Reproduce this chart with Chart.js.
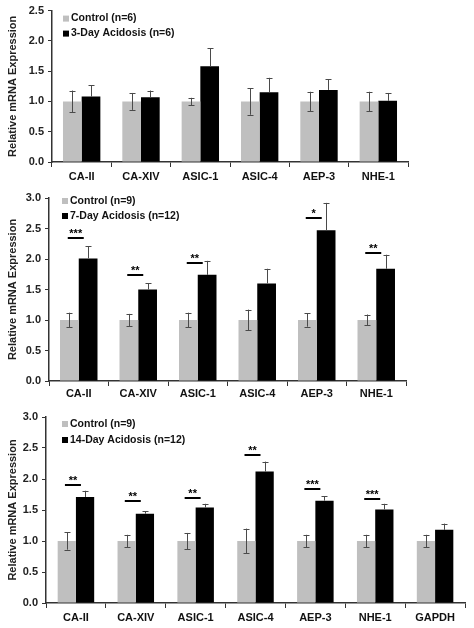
<!DOCTYPE html>
<html>
<head>
<meta charset="utf-8">
<script src="https://cdn.jsdelivr.net/npm/chart.js@4.4.1/dist/chart.umd.min.js"></script>
<style>
  html, body { margin: 0; padding: 0; background: #fff; }
  body { width: 474px; height: 628px; position: relative; overflow: hidden; }
  .panel { position: absolute; left: 0; width: 474px; }
</style>
</head>
<body>
<div class="panel" id="p1" style="top:0;height:186px"><canvas id="c1"></canvas></div>
<div class="panel" id="p2" style="top:186px;height:214px"><canvas id="c2"></canvas></div>
<div class="panel" id="p3" style="top:400px;height:228px"><canvas id="c3"></canvas></div>
<script>
// ---------- Panel 1: 3-day ----------
const categories1 = ['CA-II', 'CA-XIV', 'ASIC-1', 'ASIC-4', 'AEP-3', 'NHE-1'];
const control1    = [1.00, 1.00, 1.00, 1.00, 1.00, 1.00];
const controlErr1 = [0.18, 0.14, 0.06, 0.22, 0.16, 0.16];
const acid1       = [1.08, 1.07, 1.58, 1.15, 1.19, 1.01];
const acidErr1    = [0.19, 0.11, 0.30, 0.24, 0.18, 0.13];
const sigY1       = [null, null, null, null, null, null];
const sigLabel1   = ['', '', '', '', '', ''];

// ---------- Panel 2: 7-day ----------
const categories2 = ['CA-II', 'CA-XIV', 'ASIC-1', 'ASIC-4', 'AEP-3', 'NHE-1'];
const control2    = [1.00, 1.00, 1.00, 1.00, 1.00, 1.00];
const controlErr2 = [0.12, 0.10, 0.12, 0.17, 0.11, 0.09];
const acid2       = [2.01, 1.50, 1.74, 1.60, 2.47, 1.84];
const acidErr2    = [0.20, 0.10, 0.23, 0.24, 0.45, 0.23];
const sigY2       = [2.34, 1.74, 1.94, null, 2.67, 2.10];
const sigLabel2   = ['***', '**', '**', '', '*', '**'];

// ---------- Panel 3: 14-day ----------
const categories3 = ['CA-II', 'CA-XIV', 'ASIC-1', 'ASIC-4', 'AEP-3', 'NHE-1', 'GAPDH'];
const control3    = [1.00, 1.00, 1.00, 1.00, 1.00, 1.00, 1.00];
const controlErr3 = [0.14, 0.10, 0.13, 0.20, 0.10, 0.10, 0.10];
const acid3       = [1.71, 1.44, 1.54, 2.12, 1.65, 1.51, 1.18];
const acidErr3    = [0.10, 0.04, 0.06, 0.16, 0.07, 0.09, 0.10];
const sigY3       = [1.91, 1.65, 1.70, 2.38, 1.84, 1.68, null];
const sigLabel3   = ['**', '**', '**', '**', '***', '***', ''];

const yTicks1 = [0, 0.5, 1.0, 1.5, 2.0, 2.5];
const yTicks23 = [0, 0.5, 1.0, 1.5, 2.0, 2.5, 3.0];

const GRAY = '#bfbfbf';
const BLACK = '#000000';
const AXIS = '#333333';
const FONT = 'Arial, "Liberation Sans", sans-serif';

const errorSigPlugin = {
  id: 'errorSig',
  afterDatasetsDraw(chart, args, opts) {
    const ctx = chart.ctx;
    const y = chart.scales.y;
    const m0 = chart.getDatasetMeta(0), m1 = chart.getDatasetMeta(1);
    const ds = chart.data.datasets;
    ctx.save();
    ctx.lineWidth = 1;
    ctx.strokeStyle = '#4a4a4a';
    const cap = 3;
    m0.data.forEach((bar, j) => {
      const v = ds[0].data[j], e = ds[0].err[j];
      const yt = y.getPixelForValue(v + e), yb = y.getPixelForValue(v - e);
      const x = Math.round(bar.x) + 0.5;
      ctx.beginPath();
      ctx.moveTo(x, yt); ctx.lineTo(x, yb);
      ctx.moveTo(x - cap, Math.round(yt) + 0.5); ctx.lineTo(x + cap, Math.round(yt) + 0.5);
      ctx.moveTo(x - cap, Math.round(yb) + 0.5); ctx.lineTo(x + cap, Math.round(yb) + 0.5);
      ctx.stroke();
    });
    m1.data.forEach((bar, j) => {
      const v = ds[1].data[j], e = ds[1].err[j];
      const yt = y.getPixelForValue(v + e), yb = y.getPixelForValue(v);
      const x = Math.round(bar.x) + 0.5;
      ctx.beginPath();
      ctx.moveTo(x, yt); ctx.lineTo(x, yb);
      ctx.moveTo(x - cap, Math.round(yt) + 0.5); ctx.lineTo(x + cap, Math.round(yt) + 0.5);
      ctx.stroke();
    });
    const sy = opts.sigY || [], sl = opts.sigLabel || [];
    ctx.strokeStyle = '#000';
    ctx.fillStyle = '#000';
    ctx.lineWidth = 2;
    ctx.font = 'bold 11px ' + FONT;
    ctx.textAlign = 'center';
    ctx.textBaseline = 'alphabetic';
    m0.data.forEach((bar, j) => {
      if (sy[j] == null) return;
      const cx = (bar.x + m1.data[j].x) / 2;
      const py = Math.round(y.getPixelForValue(sy[j]));
      const x1 = cx - 11, x2 = cx + 5;
      ctx.beginPath();
      ctx.moveTo(x1, py); ctx.lineTo(x2, py);
      ctx.stroke();
      ctx.fillText(sl[j], (x1 + x2) / 2, py - 1);
    });
    ctx.restore();
  }
};

const legendPlugin = {
  id: 'inLegend',
  afterDraw(chart, args, opts) {
    const ctx = chart.ctx;
    const a = chart.chartArea;
    ctx.save();
    ctx.font = 'bold 10.5px ' + FONT;
    ctx.textBaseline = 'middle';
    ctx.textAlign = 'left';
    chart.data.datasets.forEach((d, i) => {
      const x = a.left + opts.dx;
      const yy = a.top + opts.dy + i * opts.gap;
      ctx.fillStyle = d.backgroundColor;
      ctx.fillRect(x, yy - 3, 6, 6);
      ctx.fillStyle = '#111';
      ctx.fillText(d.label, x + 8, yy);
    });
    ctx.restore();
  }
};

function makeChart(id, cats, ctl, ctlErr, acd, acdErr, labels, ticks, cfg) {
  return new Chart(document.getElementById(id), {
    type: 'bar',
    data: {
      labels: cats,
      datasets: [
        { label: labels[0], data: ctl, err: ctlErr, backgroundColor: GRAY, borderWidth: 0 },
        { label: labels[1], data: acd, err: acdErr, backgroundColor: BLACK, borderWidth: 0 }
      ]
    },
    options: {
      responsive: true,
      maintainAspectRatio: false,
      animation: false,
      events: [],
      layout: { padding: { top: cfg.top, right: cfg.right, left: 0, bottom: 0 } },
      datasets: { bar: { categoryPercentage: cfg.catPct, barPercentage: 1.0 } },
      plugins: {
        legend: { display: false },
        tooltip: { enabled: false },
        errorSig: { sigY: cfg.sigY, sigLabel: cfg.sigLabel },
        inLegend: { dx: cfg.legDx, dy: cfg.legDy, gap: cfg.legGap }
      },
      scales: {
        x: {
          grid: { display: true, drawOnChartArea: false, drawTicks: true, tickLength: 5, color: AXIS, offset: true },
          border: { display: true, color: AXIS, width: 1.5 },
          ticks: { color: '#111', font: { family: FONT, size: 11, weight: 'bold' }, padding: cfg.xPad, maxRotation: 0, autoSkip: false },
          afterFit: (s) => { s.height = cfg.xH; }
        },
        y: {
          min: 0,
          max: ticks[ticks.length - 1],
          afterBuildTicks: (s) => { s.ticks = ticks.map(v => ({ value: v })); },
          grid: { display: true, drawOnChartArea: false, drawTicks: true, tickLength: 4, color: AXIS },
          border: { display: true, color: AXIS, width: 1.5 },
          ticks: {
            color: '#222', font: { family: FONT, size: 11, weight: 'bold' }, padding: 4,
            callback: (v) => Number(v).toFixed(1)
          },
          title: {
            display: true, text: 'Relative mRNA Expression', color: '#222',
            font: { family: FONT, size: 11, weight: 'bold' }, padding: { top: 6, bottom: 0 }
          },
          afterFit: (s) => { s.width = cfg.left; }
        }
      }
    },
    plugins: [errorSigPlugin, legendPlugin]
  });
}

makeChart('c1', categories1, control1, controlErr1, acid1, acidErr1,
  ['Control (n=6)', '3-Day Acidosis (n=6)'], yTicks1,
  { top: 10, right: 66, left: 52, xH: 24, xPad: 3, catPct: 0.63, sigY: sigY1, sigLabel: sigLabel1, legDx: 11, legDy: 8, legGap: 15 });

makeChart('c2', categories2, control2, controlErr2, acid2, acidErr2,
  ['Control (n=9)', '7-Day Acidosis (n=12)'], yTicks23,
  { top: 12, right: 68, left: 49, xH: 19, xPad: 1, catPct: 0.63, sigY: sigY2, sigLabel: sigLabel2, legDx: 13, legDy: 3, legGap: 15 });

makeChart('c3', categories3, control3, controlErr3, acid3, acidErr3,
  ['Control (n=9)', '14-Day Acidosis (n=12)'], yTicks23,
  { top: 17, right: 9, left: 46, xH: 25, xPad: 3, catPct: 0.61, sigY: sigY3, sigLabel: sigLabel3, legDx: 16, legDy: 7, legGap: 16 });
</script>
</body>
</html>
